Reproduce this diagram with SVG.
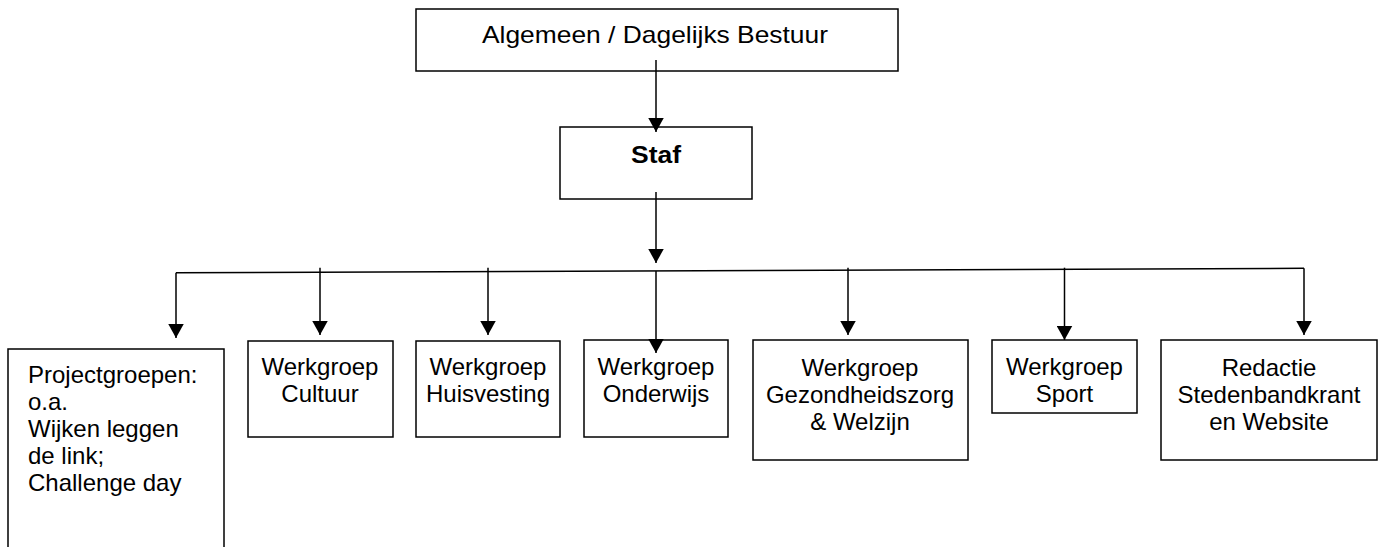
<svg xmlns="http://www.w3.org/2000/svg" width="1381" height="547" viewBox="0 0 1381 547">
<style>
.box{fill:#fff;stroke:#000;stroke-width:1.5}
.t{font-family:"Liberation Sans",Arial,sans-serif;font-size:24px;fill:#000;text-anchor:middle}
.tl{font-family:"Liberation Sans",Arial,sans-serif;font-size:24px;fill:#000}
.b{font-weight:bold}
.c{fill:none;stroke:#000;stroke-width:1.5}
</style>
<defs>
<marker id="ah" viewBox="0 0 14.5 16" refX="14.5" refY="8" markerWidth="14.5" markerHeight="16" markerUnits="userSpaceOnUse" orient="auto">
<path d="M0,0 L14.5,8 L0,16 z" fill="#000"/>
</marker>
</defs>
<rect width="1381" height="547" fill="#fff"/>
<g id="bestuur">
<rect class="box" x="416" y="9" width="482" height="62"/>
<text class="t" x="655" y="43" textLength="346" lengthAdjust="spacingAndGlyphs">Algemeen / Dagelijks Bestuur</text>
</g>
<g id="staf">
<rect class="box" x="560" y="127" width="192" height="72"/>
<text class="t b" x="656" y="163" textLength="50" lengthAdjust="spacingAndGlyphs">Staf</text>
</g>
<g id="projectgroepen">
<rect class="box" x="8" y="349" width="216" height="199"/>
<text class="tl" x="28" y="383">Projectgroepen:</text>
<text class="tl" x="28" y="410">o.a.</text>
<text class="tl" x="28" y="437">Wijken leggen</text>
<text class="tl" x="28" y="464">de link;</text>
<text class="tl" x="28" y="491">Challenge day</text>
</g>
<g id="cultuur">
<rect class="box" x="248" y="341" width="145" height="96"/>
<text class="t" x="320" y="375">Werkgroep</text>
<text class="t" x="320" y="402">Cultuur</text>
</g>
<g id="huisvesting">
<rect class="box" x="416" y="341" width="144" height="96"/>
<text class="t" x="488" y="375">Werkgroep</text>
<text class="t" x="488" y="402">Huisvesting</text>
</g>
<g id="onderwijs">
<rect class="box" x="584" y="340" width="144" height="97"/>
<text class="t" x="656" y="375">Werkgroep</text>
<text class="t" x="656" y="402">Onderwijs</text>
</g>
<g id="gezondheidszorg">
<rect class="box" x="753" y="340" width="215" height="120"/>
<text class="t" x="860" y="376">Werkgroep</text>
<text class="t" x="860" y="403">Gezondheidszorg</text>
<text class="t" x="860" y="430">&amp; Welzijn</text>
</g>
<g id="sport">
<rect class="box" x="992" y="340" width="145" height="73"/>
<text class="t" x="1064.5" y="375">Werkgroep</text>
<text class="t" x="1064.5" y="402">Sport</text>
</g>
<g id="redactie">
<rect class="box" x="1161" y="340" width="216" height="120"/>
<text class="t" x="1269" y="376">Redactie</text>
<text class="t" x="1269" y="403">Stedenbandkrant</text>
<text class="t" x="1269" y="430">en Website</text>
</g>
<g id="connectors">
<path class="c" d="M176,272.7 L1304,268.3"/>
<path class="c" d="M656,60 V132" marker-end="url(#ah)"/>
<path class="c" d="M656,192 V263" marker-end="url(#ah)"/>
<path class="c" d="M656,271 V353" marker-end="url(#ah)"/>
<path class="c" d="M176,272.7 V338" marker-end="url(#ah)"/>
<path class="c" d="M320,267.7 V335" marker-end="url(#ah)"/>
<path class="c" d="M488,267.7 V335" marker-end="url(#ah)"/>
<path class="c" d="M848,267.7 V335" marker-end="url(#ah)"/>
<path class="c" d="M1064.5,267.7 V340" marker-end="url(#ah)"/>
<path class="c" d="M1304,268.3 V335" marker-end="url(#ah)"/>
</g>
</svg>
